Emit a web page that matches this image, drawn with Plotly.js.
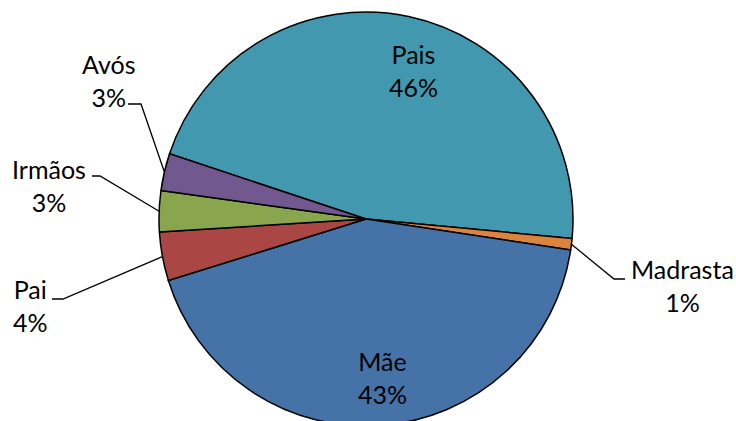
<!DOCTYPE html>
<html>
<head>
<meta charset="utf-8">
<script src="https://cdn.plot.ly/plotly-3.0.1.min.js"></script>
<style>
  html, body { margin: 0; padding: 0; overflow: hidden; background: #fff; }
  #chart { width: 736px; height: 426px; }
</style>
</head>
<body>
<div id="chart"></div>
<script>
// ---- data ----
var categories = ["Pais", "Madrasta", "Mãe", "Pai", "Irmãos", "Avós"];
var values = [46.4, 0.9, 42.8, 3.8, 3.2, 2.9];
var colors = ["#4198AF", "#DB843D", "#4572A7", "#AA4643", "#89A54E", "#71588F"];

// ---- layout / style ----
var W = 736, H = 426, MT = 12;
var R = 207, CX = 366, CY = MT + R;
var ROT = -71.65;
var FONT = "Lato, 'Open Sans', sans-serif";
var FS = 25;
// label block centres (pixels) and leader-line geometry (pixels)
var labelStyle = {
  "Pais":     {pos: [413, 71]},
  "Mãe":      {pos: [382, 377]},
  "Avós":     {pos: [108, 80], leader: [[128, 104], [141, 104]]},
  "Irmãos":   {pos: [49, 185], leader: [[92, 176], [100, 176]]},
  "Pai":      {pos: [30, 305], leader: [[52, 299], [63, 299]]},
  "Madrasta": {pos: [682, 285], leader: [[625, 279], [614, 279]]}
};

function px2x(px) { return px / W; }
function py2y(py) { return 1 - (py - MT) / (H - MT); }

var total = values.reduce(function (a, b) { return a + b; }, 0);
var annotations = [];
var shapes = [];
var cum = 0;
for (var i = 0; i < categories.length; i++) {
  var mid = ROT + 360 * (cum + values[i] / 2) / total;
  cum += values[i];
  var th = mid * Math.PI / 180;
  var ex = CX + R * Math.sin(th), ey = CY - R * Math.cos(th);
  var st = labelStyle[categories[i]];
  var pct = Math.round(values[i] / total * 100) + "%";
  annotations.push({
    x: px2x(st.pos[0]), y: py2y(st.pos[1]), xref: "paper", yref: "paper",
    xanchor: "center", yanchor: "middle", showarrow: false,
    text: categories[i] + "<br>" + pct, align: "center",
    font: {family: FONT, size: FS, color: "#000"}
  });
  if (st.leader) {
    var p = "M " + px2x(st.leader[0][0]) + "," + py2y(st.leader[0][1]) +
            " L " + px2x(st.leader[1][0]) + "," + py2y(st.leader[1][1]) +
            " L " + px2x(ex) + "," + py2y(ey);
    shapes.push({type: "path", xref: "paper", yref: "paper", path: p,
                 line: {color: "#000", width: 1.3}});
  }
}

var trace = {
  type: "pie",
  labels: categories,
  values: values,
  sort: false,
  direction: "clockwise",
  rotation: ROT,
  textinfo: "none",
  hoverinfo: "label+percent",
  marker: {colors: colors, line: {color: "#000", width: 1.5}},
  domain: {x: [(CX - R) / W, (CX + R) / W], y: [0, 1]}
};

var layout = {
  width: W, height: H,
  margin: {l: 0, r: 0, t: MT, b: 0, pad: 0},
  paper_bgcolor: "#fff", plot_bgcolor: "#fff",
  showlegend: false,
  annotations: annotations,
  shapes: shapes
};

Plotly.newPlot("chart", [trace], layout, {staticPlot: true, displayModeBar: false});
</script>
</body>
</html>
